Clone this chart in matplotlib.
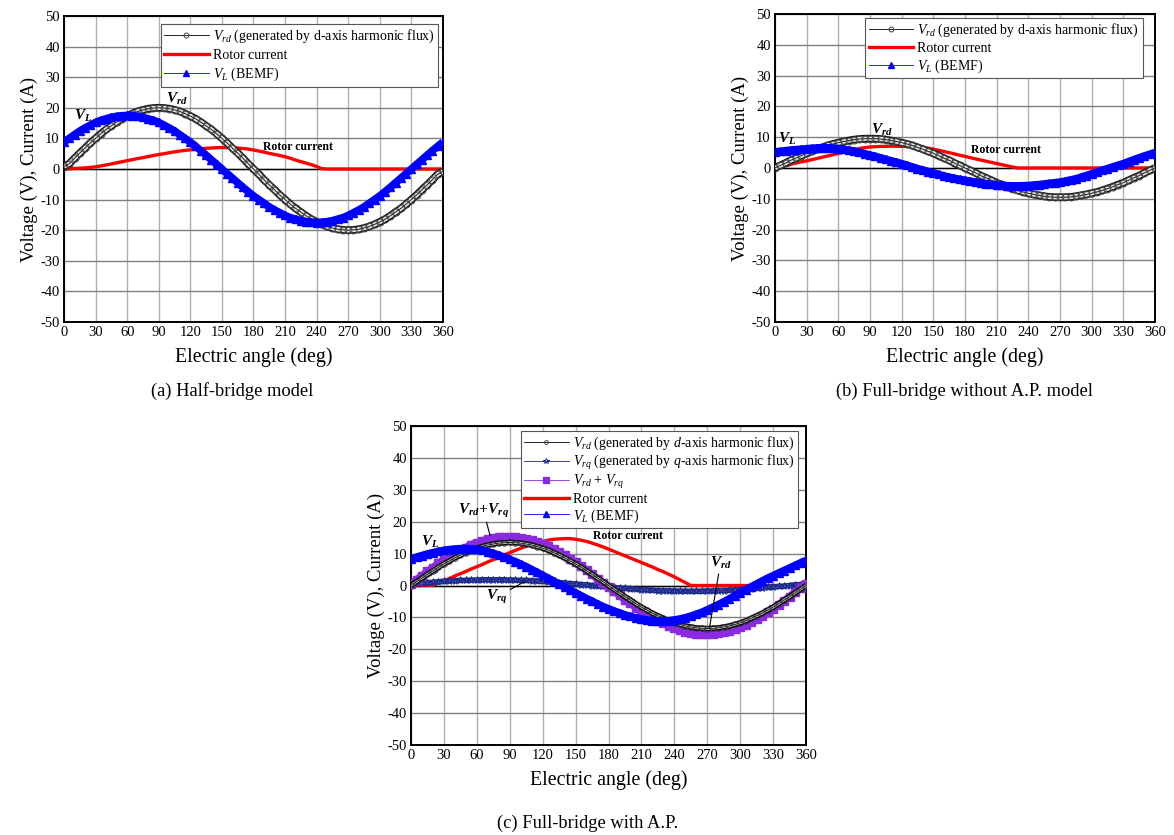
#!/usr/bin/env python3

import numpy as np
import matplotlib
matplotlib.use('Agg')
import matplotlib.pyplot as plt

plt.rcParams['font.family'] = ['Liberation Serif', 'DejaVu Serif']
plt.rcParams['mathtext.fontset'] = 'custom'
plt.rcParams['mathtext.rm'] = 'Liberation Serif'
plt.rcParams['mathtext.it'] = 'Liberation Serif:italic'
plt.rcParams['mathtext.bf'] = 'Liberation Serif:bold:italic'
plt.rcParams['axes.unicode_minus'] = False

# electric angle, every 5 deg
angle = np.arange(0, 361, 5)

# (a) half-bridge model
a_vrd = [0.8, 1.7, 3.5, 5.2, 6.8, 8.5, 10.0, 11.5, 12.9, 14.1, 15.3, 16.4, 17.3, 18.1, 18.8, 19.3, 19.7, 19.9,
         20.0, 19.9, 19.7, 19.3, 18.8, 18.1, 17.3, 16.4, 15.3, 14.1, 12.9, 11.5, 10.0, 8.5, 6.8, 5.2, 3.5, 1.7,
         0.0, -1.7, -3.5, -5.2, -6.8, -8.5, -10.0, -11.5, -12.9, -14.1, -15.3, -16.4, -17.3, -18.1, -18.8, -19.3, -19.7, -19.9,
         -20.0, -19.9, -19.7, -19.3, -18.8, -18.1, -17.3, -16.4, -15.3, -14.1, -12.9, -11.5, -10.0, -8.5, -6.8, -5.2, -3.5, -1.7,
         -0.8]
a_rotor = [0.0, 0.05, 0.15, 0.25, 0.35, 0.5, 0.7, 1.0, 1.3, 1.65, 2.0, 2.35, 2.7, 3.05, 3.4, 3.7, 4.05, 4.4,
           4.7, 5.0, 5.3, 5.6, 5.85, 6.05, 6.25, 6.45, 6.6, 6.75, 6.85, 6.95, 7.0, 7.0, 6.95, 6.85, 6.7, 6.5,
           6.2, 5.85, 5.5, 5.1, 4.75, 4.4, 4.0, 3.5, 2.9, 2.4, 1.9, 1.4, 0.8, 0.1, 0.0, 0.0, 0.0, 0.0,
           0.0, 0.0, 0.0, 0.0, 0.0, 0.0, 0.0, 0.0, 0.0, 0.0, 0.0, 0.0, 0.0, 0.0, 0.0, 0.0, 0.0, 0.0,
           0.0]
a_vl = [8.8, 10.0, 11.2, 12.4, 13.4, 14.3, 15.2, 15.9, 16.4, 16.9, 17.2, 17.4, 17.5, 17.4, 17.2, 16.9, 16.4, 15.9,
        15.2, 14.3, 13.4, 12.4, 11.2, 10.0, 8.8, 7.4, 6.0, 4.5, 3.0, 1.5, 0.0, -1.5, -3.0, -4.5, -6.0, -7.4,
        -8.8, -10.0, -11.2, -12.4, -13.4, -14.3, -15.2, -15.9, -16.4, -16.9, -17.2, -17.4, -17.5, -17.4, -17.2, -16.9, -16.4, -15.9,
        -15.2, -14.3, -13.4, -12.4, -11.2, -10.0, -8.8, -7.4, -6.0, -4.5, -3.0, -1.5, 0.0, 1.5, 3.0, 4.5, 6.0, 7.4,
        8.8]

# (b) full-bridge without A.P.
b_vrd = [0.0, 0.8, 1.6, 2.5, 3.2, 4.0, 4.8, 5.4, 6.1, 6.7, 7.3, 7.8, 8.2, 8.6, 8.9, 9.2, 9.4, 9.5,
         9.5, 9.5, 9.4, 9.2, 8.9, 8.6, 8.2, 7.8, 7.3, 6.7, 6.1, 5.4, 4.8, 4.0, 3.2, 2.5, 1.6, 0.8,
         0.0, -0.8, -1.6, -2.5, -3.2, -4.0, -4.8, -5.4, -6.1, -6.7, -7.3, -7.8, -8.2, -8.6, -8.9, -9.2, -9.4, -9.5,
         -9.5, -9.5, -9.4, -9.2, -8.9, -8.6, -8.2, -7.8, -7.3, -6.7, -6.1, -5.4, -4.8, -4.0, -3.2, -2.5, -1.6, -0.8,
         0.0]
b_rotor = [0.0, 0.4, 0.8, 1.2, 1.6, 2.0, 2.3, 2.7, 3.1, 3.5, 3.9, 4.3, 4.7, 5.1, 5.5, 5.9, 6.3, 6.6,
           6.8, 6.9, 7.0, 7.0, 7.05, 7.05, 7.0, 7.0, 6.95, 6.85, 6.7, 6.45, 6.1, 5.75, 5.35, 4.95, 4.55, 4.15,
           3.75, 3.35, 2.95, 2.55, 2.2, 1.8, 1.45, 1.05, 0.7, 0.3, 0.0, 0.0, 0.0, 0.0, 0.0, 0.0, 0.0, 0.0,
           0.0, 0.0, 0.0, 0.0, 0.0, 0.0, 0.0, 0.0, 0.0, 0.0, 0.0, 0.0, 0.0, 0.0, 0.0, 0.0, 0.0, 0.0,
           0.0]
b_vl = [5.2, 5.4, 5.6, 5.8, 5.95, 6.1, 6.25, 6.4, 6.5, 6.55, 6.55, 6.45, 6.3, 6.05, 5.8, 5.5, 5.1, 4.65,
        4.2, 3.75, 3.3, 2.8, 2.35, 1.9, 1.4, 0.9, 0.35, -0.2, -0.65, -1.15, -1.6, -2.1, -2.55, -3.0, -3.35, -3.7,
        -4.0, -4.3, -4.6, -4.9, -5.1, -5.3, -5.5, -5.65, -5.75, -5.8, -5.8, -5.75, -5.7, -5.55, -5.4, -5.2, -5.0, -4.8,
        -4.6, -4.25, -3.9, -3.5, -3.0, -2.45, -1.9, -1.35, -0.75, -0.2, 0.35, 0.9, 1.4, 2.05, 2.7, 3.3, 3.9, 4.45,
        5.0]

# (c) full-bridge with A.P.
c_vrd = [0.0, 1.2, 2.3, 3.5, 4.6, 5.7, 6.8, 7.7, 8.7, 9.5, 10.3, 11.1, 11.7, 12.2, 12.7, 13.0, 13.3, 13.4,
         13.5, 13.4, 13.3, 13.0, 12.7, 12.2, 11.7, 11.1, 10.3, 9.5, 8.7, 7.7, 6.8, 5.7, 4.6, 3.5, 2.3, 1.2,
         0.0, -1.2, -2.3, -3.5, -4.6, -5.7, -6.8, -7.7, -8.7, -9.5, -10.3, -11.1, -11.7, -12.2, -12.7, -13.0, -13.3, -13.4,
         -13.5, -13.4, -13.3, -13.0, -12.7, -12.2, -11.7, -11.1, -10.3, -9.5, -8.7, -7.7, -6.8, -5.7, -4.6, -3.5, -2.3, -1.2,
         0.0]
c_vrq = [0.5, 0.6, 0.8, 0.9, 1.0, 1.2, 1.3, 1.4, 1.5, 1.6, 1.6, 1.7, 1.7, 1.8, 1.8, 1.8, 1.8, 1.8,
         1.7, 1.7, 1.6, 1.6, 1.5, 1.4, 1.3, 1.2, 1.0, 0.9, 0.8, 0.6, 0.5, 0.3, 0.2, 0.0, -0.2, -0.3,
         -0.5, -0.6, -0.8, -0.9, -1.0, -1.2, -1.3, -1.4, -1.5, -1.6, -1.6, -1.7, -1.7, -1.8, -1.8, -1.8, -1.8, -1.8,
         -1.7, -1.7, -1.6, -1.6, -1.5, -1.4, -1.3, -1.2, -1.0, -0.9, -0.8, -0.6, -0.5, -0.3, -0.2, 0.0, 0.2, 0.3,
         0.5]
c_vsum = [0.5, 1.8, 3.1, 4.4, 5.6, 6.9, 8.1, 9.1, 10.2, 11.1, 11.9, 12.8, 13.4, 14.0, 14.5, 14.8, 15.1, 15.2,
          15.2, 15.1, 14.9, 14.6, 14.2, 13.6, 13.0, 12.3, 11.3, 10.4, 9.5, 8.3, 7.3, 6.0, 4.8, 3.5, 2.1, 0.9,
          -0.5, -1.8, -3.1, -4.4, -5.6, -6.9, -8.1, -9.1, -10.2, -11.1, -11.9, -12.8, -13.4, -14.0, -14.5, -14.8, -15.1, -15.2,
          -15.2, -15.1, -14.9, -14.6, -14.2, -13.6, -13.0, -12.3, -11.3, -10.4, -9.5, -8.3, -7.3, -6.0, -4.8, -3.5, -2.1, -0.9,
          0.5]
c_rotor = [0.0, 0.0, 0.0, 0.0, 0.1, 0.8, 1.5, 2.2, 3.0, 3.7, 4.4, 5.2, 5.9, 6.6, 7.4, 8.1, 8.8, 9.6,
           10.3, 11.0, 11.7, 12.3, 12.9, 13.4, 13.8, 14.2, 14.5, 14.6, 14.7, 14.7, 14.5, 14.2, 13.8, 13.3, 12.7, 12.1,
           11.4, 10.7, 10.0, 9.3, 8.6, 7.9, 7.2, 6.5, 5.8, 5.0, 4.3, 3.5, 2.7, 1.8, 0.9, 0.0, 0.0, 0.0,
           0.0, 0.0, 0.0, 0.0, 0.0, 0.0, 0.0, 0.0, 0.0, 0.0, 0.0, 0.0, 0.0, 0.0, 0.0, 0.0, 0.0, 0.0,
           0.0]
c_vl = [8.3, 8.9, 9.4, 9.9, 10.3, 10.7, 11.0, 11.25, 11.45, 11.55, 11.6, 11.5, 11.3, 11.0, 10.6, 10.1, 9.5, 8.9,
        8.2, 7.5, 6.7, 5.9, 5.0, 4.1, 3.2, 2.3, 1.4, 0.4, -0.5, -1.4, -2.3, -3.2, -4.1, -4.9, -5.8, -6.6,
        -7.3, -8.0, -8.6, -9.2, -9.7, -10.2, -10.5, -10.8, -11.0, -11.1, -11.1, -11.0, -10.8, -10.5, -10.1, -9.6, -9.0, -8.4,
        -7.6, -6.8, -6.0, -5.1, -4.2, -3.2, -2.3, -1.3, -0.4, 0.5, 1.4, 2.3, 3.1, 3.9, 4.7, 5.5, 6.3, 7.1,
        7.9]

BLUE = '#0000ff'
RED = '#ff0000'
NAVY = '#1c2a8c'
PURPLE = '#8a2be2'

def setup_axes(ax):
  ax.set_xlim(0, 360)
  ax.set_ylim(-50, 50)
  ax.set_xticks(np.arange(0, 361, 30))
  ax.set_yticks(np.arange(-50, 51, 10))
  ax.tick_params(length=0, labelsize=10.5, pad=3)
  ax.grid(axis='x', color='#b0b0b0', lw=1)
  ax.grid(axis='y', color='#808080', lw=1)
  ax.set_axisbelow(True)
  ax.axhline(0, color='black', lw=1, zorder=1.5)
  for s in ax.spines.values():
    s.set_linewidth(1.4)
  ax.set_xlabel('Electric angle (deg)', fontsize=14.3, labelpad=6)
  ax.set_ylabel('Voltage (V), Current (A)', fontsize=13.5, labelpad=2)

def band(ax, y, color, width, z, inner=None, inner_width=0):
  # thick strip under the markers so the dense series reads as one band
  ax.plot(angle, y, color=color, lw=width, solid_capstyle='butt', zorder=z)
  if inner is not None:
    ax.plot(angle, y, color=inner, lw=inner_width, solid_capstyle='butt', zorder=z)

def add_legend(ax, anchor, spacing):
  leg = ax.legend(loc='upper right', bbox_to_anchor=anchor, borderaxespad=0, fontsize=10,
                  fancybox=False, framealpha=1, edgecolor='#555555', labelspacing=spacing,
                  handlelength=3.2, handletextpad=0.3, borderpad=0.25, markerscale=0.7)
  leg.get_frame().set_linewidth(0.8)
  leg.set_zorder(7)
  return leg

def tag(ax, s, x, y, size=11):
  ax.text(x, y, s, fontsize=size, ha='center', va='center', zorder=6)

fig = plt.figure(figsize=(11.74, 8.35), dpi=100)

# (a)
ax = fig.add_axes([0.0545, 0.6144, 0.3228, 0.3665])
setup_axes(ax)
band(ax, a_vrd, '#1a1a1a', 5.6, 3, '#e2e2e2', 3.2)
ax.plot(angle, a_vrd, color='black', lw=0.6, marker='o', ms=5, mfc='none', mec='#444444', mew=0.7,
        zorder=3, label=r'$V_{rd}$ (generated by d-axis harmonic flux)')
ax.plot(angle, a_rotor, color=RED, lw=2.4, zorder=2, label='Rotor current')
band(ax, a_vl, BLUE, 5.5, 4)
ax.plot(angle, a_vl, color=BLUE, lw=0.6, marker='^', ms=5.8, mfc=BLUE, mec=BLUE,
        zorder=4, label=r'$V_L$ (BEMF)')
add_legend(ax, (0.987, 0.974), 0.3)
tag(ax, r'$\mathbf{V_L}$', 18, 17.3)
tag(ax, r'$\mathbf{V_{rd}}$', 107, 22.9)
ax.text(222, 7.2, 'Rotor current', fontsize=8.5, fontweight='bold', ha='center', va='center', zorder=6)

# (b)
ax = fig.add_axes([0.6601, 0.6144, 0.3237, 0.3689])
setup_axes(ax)
band(ax, b_vrd, '#1a1a1a', 5.6, 3, '#e2e2e2', 3.2)
ax.plot(angle, b_vrd, color='black', lw=0.6, marker='o', ms=5, mfc='none', mec='#444444', mew=0.7,
        zorder=3, label=r'$V_{rd}$ (generated by d-axis harmonic flux)')
ax.plot(angle, b_rotor, color=RED, lw=2.4, zorder=2, label='Rotor current')
band(ax, b_vl, BLUE, 5.5, 4)
ax.plot(angle, b_vl, color=BLUE, lw=0.6, marker='^', ms=5.8, mfc=BLUE, mec=BLUE,
        zorder=4, label=r'$V_L$ (BEMF)')
add_legend(ax, (0.968, 0.987), 0.2)
tag(ax, r'$\mathbf{V_L}$', 12, 9.5)
tag(ax, r'$\mathbf{V_{rd}}$', 101, 12.5)
ax.text(219, 5.8, 'Rotor current', fontsize=8.5, fontweight='bold', ha='center', va='center', zorder=6)

# (c)
ax = fig.add_axes([0.3501, 0.1078, 0.3365, 0.3820])
setup_axes(ax)
band(ax, c_vrd, 'black', 4, 3.5, '#d8d8d8', 1.8)
ax.plot(angle, c_vrd, color='black', lw=0.6, marker='o', ms=4, mfc='none', mec='#333333', mew=0.6,
        zorder=3.5, label=r'$V_{rd}$ (generated by $d$-axis harmonic flux)')
band(ax, c_vrq, NAVY, 4, 2.5, '#7480c8', 1.5)
ax.plot(angle, c_vrq, color=NAVY, lw=0.6, marker='*', ms=5.5, mfc='none', mec=NAVY, mew=0.7,
        zorder=2.5, label=r'$V_{rq}$ (generated by $q$-axis harmonic flux)')
band(ax, c_vsum, PURPLE, 5.5, 3)
ax.plot(angle, c_vsum, color=PURPLE, lw=0.6, marker='s', ms=5.5, mfc=PURPLE, mec=PURPLE,
        zorder=3, label=r'$V_{rd}$ + $V_{rq}$')
ax.plot(angle, c_rotor, color=RED, lw=2.4, zorder=2, label='Rotor current')
band(ax, c_vl, BLUE, 5.5, 4)
ax.plot(angle, c_vl, color=BLUE, lw=0.6, marker='^', ms=5.8, mfc=BLUE, mec=BLUE,
        zorder=4, label=r'$V_L$ (BEMF)')
add_legend(ax, (0.98, 0.985), 0.1)
tag(ax, r'$\mathbf{V_L}$', 17, 13.8)
ax.text(198, 15.5, 'Rotor current', fontsize=8.5, fontweight='bold', ha='center', va='center', zorder=6)
line = dict(arrowstyle='-', color='black', lw=0.8, shrinkA=0, shrinkB=0)
ax.annotate(r'$\mathbf{V_{rd}\!+\!V_{rq}}$', xy=(72, 15.7), xytext=(66, 23.5), fontsize=11,
            ha='center', va='center', arrowprops=line, zorder=6)
ax.annotate(r'$\mathbf{V_{rq}}$', xy=(104, 1.3), xytext=(78, -3.6), fontsize=11,
            ha='center', va='center', arrowprops=line, zorder=6)
ax.annotate(r'$\mathbf{V_{rd}}$', xy=(272, -13.2), xytext=(282, 7.0), fontsize=11,
            ha='center', va='center', arrowprops=line, zorder=6)

fig.text(232 / 1174, 1 - 391 / 835, '(a) Half-bridge model', fontsize=13.3, ha='center', va='center')
fig.text(965 / 1174, 1 - 391 / 835, '(b) Full-bridge without A.P. model', fontsize=13.3, ha='center', va='center')
fig.text(588 / 1174, 1 - 823 / 835, '(c) Full-bridge with A.P.', fontsize=13.3, ha='center', va='center')

fig.savefig('out.png', dpi=100)
